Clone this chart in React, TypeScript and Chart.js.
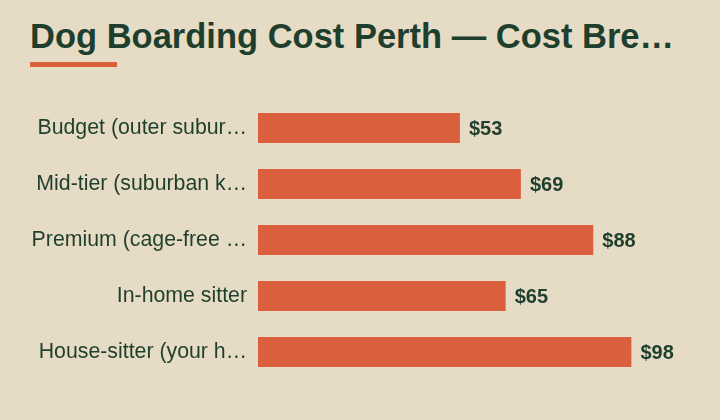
import { useEffect, useRef } from "react";
import { Chart, registerables } from "chart.js";

Chart.register(...registerables);

const categories = [
  "Budget (outer subur…",
  "Mid-tier (suburban k…",
  "Premium (cage-free …",
  "In-home sitter",
  "House-sitter (your h…",
];
const costs = [53, 69, 88, 65, 98];

const BG = "#E6DBC4";
const ORANGE = "#DA603D";
const GREEN = "#1E3F2D";
const FONT = "'Liberation Sans', Arial, sans-serif";

// draws "$xx" just past the end of each bar
const valueLabels = {
  id: "valueLabels",
  afterDatasetsDraw(chart: Chart) {
    const ctx = chart.ctx;
    const meta = chart.getDatasetMeta(0);
    ctx.save();
    ctx.font = `bold 20px ${FONT}`;
    ctx.fillStyle = GREEN;
    ctx.textAlign = "left";
    ctx.textBaseline = "middle";
    meta.data.forEach((bar: any, i: number) => {
      ctx.fillText("$" + costs[i], bar.x + 9, bar.y + 1);
    });
    ctx.restore();
  },
};

export default function App() {
  const chartRef = useRef<HTMLCanvasElement | null>(null);
  const chartInstance = useRef<Chart | null>(null);

  useEffect(() => {
    document.body.style.margin = "0";
    if (!chartRef.current) return;
    if (chartInstance.current) chartInstance.current.destroy();

    chartInstance.current = new Chart(chartRef.current, {
      type: "bar",
      data: {
        labels: categories,
        datasets: [
          {
            data: costs,
            backgroundColor: ORANGE,
            borderWidth: 0,
            categoryPercentage: 1,
            barPercentage: 30 / 56,
          },
        ],
      },
      options: {
        indexAxis: "y",
        animation: false,
        responsive: false,
        layout: { padding: { top: 100, bottom: 40, right: 81, left: 0 } },
        plugins: {
          legend: { display: false },
          tooltip: { enabled: false },
        },
        scales: {
          x: {
            display: false,
            min: 0,
            max: 100,
          },
          y: {
            grid: { display: false, drawTicks: false },
            border: { display: false },
            afterFit: (scale: any) => {
              scale.width = 258;
            },
            ticks: {
              padding: 11,
              color: GREEN,
              font: { family: FONT, size: 21.3 },
            },
          },
        },
      },
      plugins: [valueLabels],
    });

    return () => {
      if (chartInstance.current) {
        chartInstance.current.destroy();
        chartInstance.current = null;
      }
    };
  }, []);

  return (
    <div style={{ position: "relative", width: 720, height: 420, background: BG, overflow: "hidden" }}>
      <div
        style={{
          position: "absolute",
          left: 30,
          top: 19,
          fontFamily: FONT,
          fontWeight: "bold",
          fontSize: 34.5,
          lineHeight: "34px",
          color: GREEN,
          whiteSpace: "nowrap",
        }}
      >
        Dog Boarding Cost Perth — Cost Bre…
      </div>
      <div style={{ position: "absolute", left: 30, top: 62, width: 87, height: 5, background: ORANGE }} />
      <canvas ref={chartRef} width={720} height={420} style={{ position: "absolute", left: 0, top: 0 }} />
    </div>
  );
}
